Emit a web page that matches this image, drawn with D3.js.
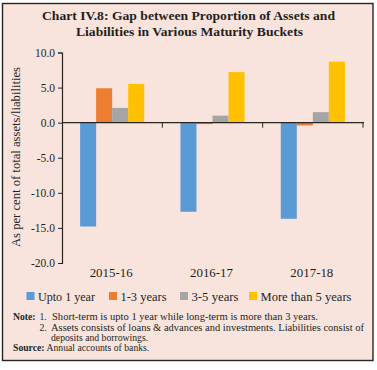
<!DOCTYPE html>
<html><head><meta charset="utf-8">
<script src="https://cdn.jsdelivr.net/npm/d3@7"></script>
<style>
body{margin:0;background:#fff;}
svg text{font-family:"Liberation Serif","DejaVu Serif",serif;fill:#231f1c;}
</style></head>
<body>
<svg id="chart" width="377" height="370"></svg>
<script>
const categories = ["2015-16","2016-17","2017-18"];
const seriesNames = ["Upto 1 year","1-3 years","3-5 years","More than 5 years"];
const upto1 = [-14.8,-12.7,-13.7];
const y1to3 = [4.9,-0.2,-0.4];
const y3to5 = [2.1,1.0,1.5];
const more5 = [5.5,7.2,8.7];
const yTicks = [10,5,0,-5,-10,-15,-20];
const colors = ["#5b9bd5","#ed7d31","#a5a5a5","#ffc000"];
const seriesValues = [upto1,y1to3,y3to5,more5];

const svg = d3.select("#chart");
svg.append("rect").attr("x",2.5).attr("y",3.5).attr("width",370.5).attr("height",357)
  .attr("fill","#f9e4dd").attr("stroke","#2a2420").attr("stroke-width",1.4);

function txt(x,y,str,size,w,opts={}){
  const t = svg.append("text").attr("x",x).attr("y",y).attr("font-size",size).text(str);
  if(opts.anchor) t.attr("text-anchor",opts.anchor);
  if(opts.bold) t.attr("font-weight","bold");
  if(w) t.attr("textLength",w).attr("lengthAdjust","spacingAndGlyphs");
  return t;
}

txt(188.5,20,"Chart IV.8: Gap between Proportion of Assets and",13.2,293,{anchor:"middle",bold:true});
txt(189.5,36,"Liabilities in Various Maturity Buckets",13.2,227,{anchor:"middle",bold:true});

const left=62, right=363;
const y = d3.scaleLinear().domain([-20,10]).range([263,52.5]);
const x0 = d3.scaleBand().domain(categories).range([left,right]).padding(0);
const x1 = d3.scaleBand().domain(seriesNames).range([0,x0.bandwidth()]).paddingInner(0).paddingOuter(1.13);

const fmt = v => d3.format(".1f")(v).replace("\u2212","-");
const yAxis = svg.append("g").attr("transform",`translate(${left},0)`)
  .call(d3.axisLeft(y).tickValues(yTicks).tickFormat(fmt).tickSize(4).tickPadding(3));
yAxis.select(".domain").attr("stroke","#2a2420").attr("stroke-width",1.2);
yAxis.selectAll(".tick line").attr("stroke","#2a2420");
yAxis.selectAll("text").attr("font-size",11.5).attr("font-family","Liberation Serif, serif").attr("fill","#231f1c");

// bars
categories.forEach((c,i)=>{
  seriesNames.forEach((s,j)=>{
    const v = seriesValues[j][i];
    svg.append("rect").attr("x",x0(c)+x1(s)).attr("width",x1.bandwidth())
      .attr("y",y(Math.max(0,v))).attr("height",Math.abs(y(v)-y(0)))
      .attr("fill",colors[j]);
  });
});

// x axis at zero
const xg = svg.append("g");
xg.append("line").attr("x1",left).attr("x2",right+1).attr("y1",y(0)).attr("y2",y(0)).attr("stroke","#2a2420").attr("stroke-width",1.3);
categories.forEach(c=>{
  const xx = x0(c)+x0.bandwidth();
  xg.append("line").attr("x1",xx).attr("x2",xx).attr("y1",y(0)).attr("y2",y(0)+5).attr("stroke","#2a2420");
});
categories.forEach(c=>{
  txt(x0(c)+x0.bandwidth()/2-1,277,c,12,43,{anchor:"middle"});
});

svg.append("text").attr("transform","translate(19.5,157) rotate(-90)").attr("text-anchor","middle")
  .attr("font-size",12).attr("textLength",180).attr("lengthAdjust","spacingAndGlyphs")
  .text("As per cent of total assets/liabilities");

// legend
const legX = [26.5,109,180,249];
const legW = [57,46,47,91];
seriesNames.forEach((s,j)=>{
  svg.append("rect").attr("x",legX[j]).attr("y",292).attr("width",8).attr("height",8).attr("fill",colors[j]);
  txt(legX[j]+11.5,300.5,s,12,legW[j]);
});

// notes
const fs = 9.7;
txt(13,320,"Note:",fs,null,{bold:true});
txt(39.5,320,"1.",fs);
txt(52,320,"Short-term  is  upto 1 year while long-term is more than 3 years.",fs,266);
txt(39.5,330.5,"2.",fs);
txt(51,330.5,"Assets consists of loans & advances and investments. Liabilities consist of",fs,313);
txt(51,340.5,"deposits and borrowings.",fs);
txt(13,350.5,"Source:",fs,null,{bold:true});
txt(46.5,350.5,"Annual accounts of banks.",fs);
</script>
</body></html>
